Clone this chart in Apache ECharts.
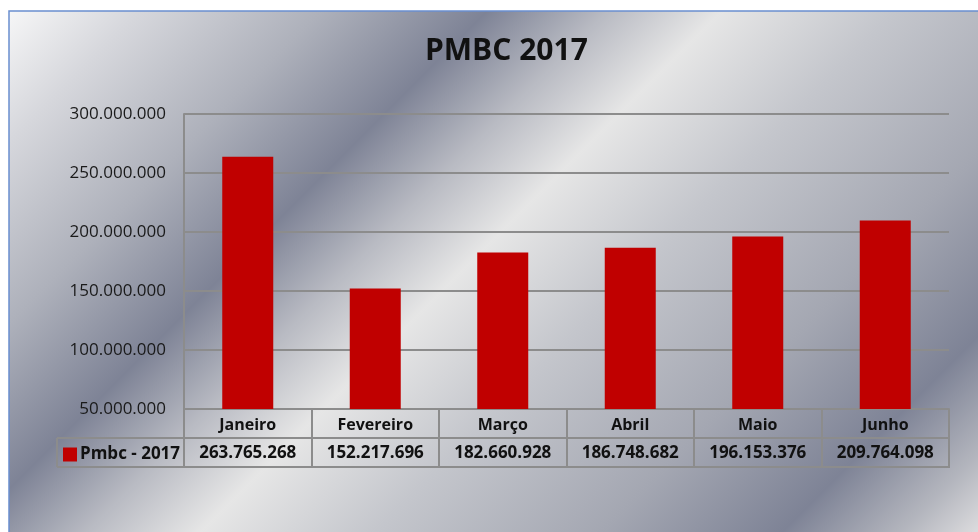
<!DOCTYPE html>
<html>
<head>
<meta charset="utf-8">
<script src="https://cdn.jsdelivr.net/npm/echarts@6/dist/echarts.min.js"></script>
<style>
  html, body { margin: 0; padding: 0; background: #fff; }
  #main { width: 978px; height: 532px; }
</style>
</head>
<body>
<div id="main"></div>
<script>
var categories = ['Janeiro', 'Fevereiro', 'Março', 'Abril', 'Maio', 'Junho'];
var values = [263765268, 152217696, 182660928, 186748682, 196153376, 209764098];
var seriesName = 'Pmbc - 2017';
var yMin = 50000000, yMax = 300000000, yStep = 50000000;

// layout of the plot and the data table under it
var gridLeft = 184, gridRight = 949, gridTop = 114, gridBottom = 409;
var rowH = 29, tableLeft = 57;
var lineCol = '#8c8c8c';
var font = '"Open Sans", "Noto Sans", sans-serif';

function fmt(v) {
  return String(v).replace(/\B(?=(\d{3})+(?!\d))/g, '.');
}

var chart = echarts.init(document.getElementById('main'));

var bg = new echarts.graphic.LinearGradient(0, 0, 755, 755, [
  { offset: 0, color: '#fbfbfb' },
  { offset: 0.1, color: '#d6d7dc' },
  { offset: 0.22, color: '#aeb1bb' },
  { offset: 0.33, color: '#7e8396' },
  { offset: 0.41, color: '#b9bbc3' },
  { offset: 0.485, color: '#e6e6e6' },
  { offset: 0.6, color: '#c4c6cc' },
  { offset: 0.75, color: '#a4a7b2' },
  { offset: 0.87, color: '#7e8396' },
  { offset: 0.95, color: '#b4b6be' },
  { offset: 1, color: '#dcdcde' }
], true);

var option = {
  backgroundColor: '#ffffff',
  animation: false,
  textStyle: { fontFamily: font },
  title: {
    text: 'PMBC 2017',
    left: 420,
    top: 31,
    textStyle: { fontSize: 30, fontWeight: 'bold', color: '#111', fontFamily: font }
  },
  legend: {
    left: 63,
    top: 446,
    itemWidth: 14,
    itemHeight: 14,
    itemGap: 4,
    icon: 'rect',
    padding: 0,
    data: [seriesName],
    textStyle: { fontSize: 17, fontWeight: 'bold', color: '#111', padding: [0, 0, 0, -2] }
  },
  grid: {
    left: gridLeft,
    right: 978 - gridRight,
    top: gridTop,
    bottom: 532 - gridBottom
  },
  xAxis: [
    {
      type: 'category',
      data: categories,
      axisLine: { show: true, lineStyle: { color: lineCol, width: 2 } },
      axisTick: { show: true, length: rowH * 2, lineStyle: { color: lineCol, width: 2 } },
      axisLabel: { margin: 8, fontSize: 16, fontWeight: 'bold', color: '#111', lineHeight: 17 }
    },
    {
      type: 'category',
      position: 'bottom',
      offset: rowH,
      data: values.map(fmt),
      axisLine: { show: false },
      axisTick: { show: false },
      axisLabel: { margin: 7, fontSize: 17, fontWeight: 'bold', color: '#111', lineHeight: 17 }
    }
  ],
  yAxis: {
    type: 'value',
    min: yMin,
    max: yMax,
    interval: yStep,
    axisLine: { show: true, lineStyle: { color: lineCol, width: 2 } },
    axisTick: { show: false },
    axisLabel: { margin: 18, fontSize: 17, color: '#1a1a1a', formatter: fmt },
    splitLine: { show: true, lineStyle: { color: lineCol, width: 2 } }
  },
  series: [{
    name: seriesName,
    type: 'bar',
    data: values,
    barWidth: '40%',
    itemStyle: { color: '#c00000' }
  }],
  graphic: [
    {
      type: 'rect', z: -10, silent: true,
      shape: { x: 9, y: 11, width: 1000, height: 600 },
      style: { fill: bg, stroke: '#6a8fcf', lineWidth: 1.5 }
    },
    {
      type: 'line', silent: true,
      shape: { x1: tableLeft, y1: gridBottom + rowH, x2: gridRight, y2: gridBottom + rowH },
      style: { stroke: lineCol, lineWidth: 2 }
    },
    {
      type: 'line', silent: true,
      shape: { x1: tableLeft, y1: gridBottom + rowH * 2, x2: gridRight + 1, y2: gridBottom + rowH * 2 },
      style: { stroke: lineCol, lineWidth: 2 }
    },
    {
      type: 'line', silent: true,
      shape: { x1: tableLeft, y1: gridBottom + rowH, x2: tableLeft, y2: gridBottom + rowH * 2 },
      style: { stroke: lineCol, lineWidth: 2 }
    }
  ]
};

chart.setOption(option);
</script>
</body>
</html>
